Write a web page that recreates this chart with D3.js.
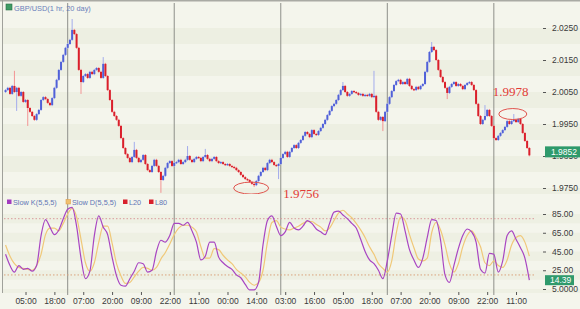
<!DOCTYPE html>
<html><head><meta charset="utf-8">
<script src="https://cdn.jsdelivr.net/npm/d3@7/dist/d3.min.js"></script>
<style>body{margin:0;background:#fff}svg{display:block;font-family:"Liberation Sans",Arial,sans-serif}</style>
</head><body><svg id="c" width="580" height="309"></svg>
<script>
// ---------- DATA ----------
const startHour = -9;          // hour index of first candle (0 = first labelled tick, 05:00)
const firstOpen = 2.0050;
const closes = [
2.0056,2.0063,2.0044,2.0069,2.0050,2.0063,2.0038,2.0050,2.0019,2.0025,
2.0000,1.9988,1.9975,1.9963,1.9981,1.9994,2.0025,2.0034,2.0028,2.0016,
2.0009,2.0031,2.0063,2.0088,2.0119,2.0144,2.0166,2.0188,2.0200,2.0213,
2.0244,2.0231,2.0188,2.0119,2.0081,2.0100,2.0106,2.0094,2.0113,2.0106,
2.0119,2.0125,2.0113,2.0094,2.0138,2.0100,2.0056,2.0025,1.9988,1.9975,
1.9963,1.9944,1.9906,1.9875,1.9856,1.9844,1.9831,1.9847,1.9869,1.9844,
1.9831,1.9838,1.9853,1.9825,1.9806,1.9800,1.9819,1.9838,1.9819,1.9800,
1.9775,1.9788,1.9813,1.9828,1.9834,1.9819,1.9828,1.9831,1.9838,1.9825,
1.9831,1.9838,1.9850,1.9838,1.9831,1.9841,1.9847,1.9844,1.9834,1.9847,
1.9853,1.9841,1.9834,1.9841,1.9847,1.9834,1.9828,1.9831,1.9825,1.9822,
1.9825,1.9819,1.9816,1.9813,1.9806,1.9800,1.9791,1.9784,1.9778,1.9775,
1.9769,1.9763,1.9759,1.9772,1.9788,1.9800,1.9813,1.9806,1.9828,1.9838,
1.9831,1.9822,1.9819,1.9825,1.9844,1.9856,1.9863,1.9847,1.9863,1.9875,
1.9884,1.9875,1.9891,1.9900,1.9913,1.9925,1.9919,1.9909,1.9931,1.9919,
1.9916,1.9928,1.9938,1.9950,1.9963,1.9978,1.9991,2.0006,2.0013,2.0025,
2.0041,2.0056,2.0069,2.0050,2.0038,2.0044,2.0053,2.0050,2.0047,2.0041,
2.0044,2.0038,2.0041,2.0038,2.0044,2.0034,2.0038,1.9988,1.9963,1.9972,
1.9959,1.9988,2.0013,2.0034,2.0053,2.0072,2.0084,2.0088,2.0075,2.0081,
2.0075,2.0091,2.0069,2.0059,2.0056,2.0066,2.0059,2.0069,2.0075,2.0113,
2.0144,2.0175,2.0191,2.0181,2.0150,2.0119,2.0097,2.0081,2.0063,2.0047,
2.0066,2.0075,2.0081,2.0069,2.0075,2.0069,2.0059,2.0072,2.0078,2.0081,
2.0072,2.0056,2.0013,1.9975,1.9950,1.9963,1.9975,1.9994,1.9975,1.9944,
1.9906,1.9900,1.9913,1.9922,1.9931,1.9941,1.9959,1.9950,1.9959,1.9963,
1.9956,1.9966,1.9950,1.9922,1.9897,1.9875,1.9852
];
// notable wicks
const highWickHours  = [-5, 21, 35, 49, 73, 81, 143, 157, 183, 207, 220];
const highWickValues = [2.0113, 2.0275, 2.0156, 1.9891, 1.9878, 1.9869, 2.0078, 2.0113, 2.0203, 2.0006, 1.9978];
const lowWickHours   = [-4, 1, 25, 61, 103, 114, 161, 190];
const lowWickValues  = [1.9994, 1.9947, 2.0047, 1.9738, 1.9756, 1.9781, 1.9931, 2.0031];

// stochastic, sampled every 2 hours from startHour
const stochStep = 2;
const slowK = [
42,30,23,30,26,27,24,30,62,79, 71,63,68,80,90,92,72,38,16,24,
62,83,71,63,39,19,9,8,16,24, 33,32,23,25,45,57,55,62,75,75,
73,76,67,55,36,40,55,55,39,33, 29,26,20,17,10,4,4,12,52,78,
83,72,62,66,76,70,68,72,78,75, 69,66,63,75,87,88,84,80,75,70,
58,45,36,32,25,16,35,62,86,85, 67,47,36,28,38,60,79,78,57,20,
12,30,48,62,69,66,55,26,22,43, 42,23,35,62,67,58,49,38,14.39
];
const slowD = [
52,40,32,28,27,26,25,30,42,63, 70,70,67,75,85,91,82,58,33,24,
33,55,72,72,54,32,19,11,12,18, 24,28,27,25,28,37,44,53,63,70,
73,73,71,66,50,38,38,48,47,41, 36,32,26,22,18,12,9,12,25,55,
76,78,71,69,68,70,72,75,77,77, 74,71,67,70,78,86,89,85,81,75,
68,60,50,42,32,27,23,35,64,82, 78,63,49,37,35,38,65,76,68,52,
32,23,32,50,62,67,60,50,33,30, 35,30,28,36,52,60,62,55,40
];
const levelLines = [80, 20];

const timeLabels = ["05:00","18:00","07:00","20:00","09:00","22:00","11:00","00:00","14:00",
                    "03:00","16:00","05:00","18:00","07:00","20:00","09:00","22:00","11:00"];
const labelStepHours = 13;
const dayLineHours = [19, 67, 115, 163, 211];
const priceTicks = [2.0250, 2.0150, 2.0050, 1.9950, 1.9850, 1.9750];
const stochTicks = [85, 65, 45, 25, 5];
const stochTickLabels = ["85.00","65.00","45.00","25.00","5.0000"];
const annotations = [{h:103, v:1.9756, text:"1.9756"}, {h:220, v:1.9978, text:"1.9978"}];
const title = "GBP/USD(1 hr, 20 day)";
const legend = [{name:"Slow K(5,5,5)", color:"#a23cbf"},{name:"Slow D(5,5,5)", color:"#f0c070"},
                {name:"L20", color:"#d8202c"},{name:"L80", color:"#d8202c"}];

// ---------- CHART ----------
const svg = d3.select("#c");
const x = d3.scaleLinear().domain([-9.7, 231.8]).range([4, 540]);
const yP = d3.scaleLinear().domain([1.975, 2.025]).range([188, 28]);
const yS = d3.scaleLinear().domain([5, 85]).range([289, 214]);
const priceTop = 3, priceBot = 194, stTop = 195, stBot = 293;

svg.append("rect").attr("width",580).attr("height",309).attr("fill","#f4f5ec");
const defs = svg.append("defs");
defs.append("clipPath").attr("id","cp").append("rect").attr("x",3).attr("y",priceTop).attr("width",577).attr("height",priceBot-priceTop);
defs.append("clipPath").attr("id","cs").append("rect").attr("x",3).attr("y",stTop).attr("width",577).attr("height",stBot-stTop);

// stripes
const gp = svg.append("g").attr("clip-path","url(#cp)");
gp.selectAll("rect").data(priceTicks).join("rect")
  .attr("x",3).attr("width",577)
  .attr("y",d=>yP(d)).attr("height",d=>yP(d-0.005)-yP(d)).attr("fill","#edefe2");
const gs = svg.append("g").attr("clip-path","url(#cs)");
gs.selectAll("rect").data(stochTicks).join("rect")
  .attr("x",3).attr("width",577)
  .attr("y",d=>yS(d)).attr("height",d=>yS(d-10)-yS(d)).attr("fill","#eef0e3");

// borders
svg.append("rect").attr("x",0).attr("y",0).attr("width",580).attr("height",1.5).attr("fill","#a9aaa4");
svg.append("line").attr("x1",2.5).attr("x2",2.5).attr("y1",0).attr("y2",stBot).attr("stroke","#a0a19b");

// day separators
svg.append("g").selectAll("line").data(dayLineHours).join("line")
  .attr("x1",d=>x(d)).attr("x2",d=>x(d)).attr("y1",priceTop).attr("y2",stBot+2)
  .attr("stroke","#8e8f8a").attr("stroke-width",1);

// candles
const hiMap = new Map(highWickHours.map((h,i)=>[h,highWickValues[i]]));
const loMap = new Map(lowWickHours.map((h,i)=>[h,lowWickValues[i]]));
const candles = closes.map((c,i)=>{
  const o = i ? closes[i-1] : firstOpen, h = startHour + i;
  return {h, o, c, hi: hiMap.has(h)? hiMap.get(h) : Math.max(o,c), lo: loMap.has(h)? loMap.get(h) : Math.min(o,c)};
});
const gc = svg.append("g").attr("clip-path","url(#cp)");
gc.selectAll("line").data(candles).join("line")
  .attr("x1",d=>x(d.h)).attr("x2",d=>x(d.h))
  .attr("y1",d=>yP(d.hi)-1).attr("y2",d=>yP(d.lo)+1)
  .attr("stroke",d=>d.c>=d.o?"#a3acec":"#f29494").attr("stroke-width",1);
gc.selectAll("rect").data(candles).join("rect")
  .attr("x",d=>x(d.h)-1).attr("width",2)
  .attr("y",d=>yP(Math.max(d.o,d.c)))
  .attr("height",d=>Math.max(1.2, Math.abs(yP(d.o)-yP(d.c))))
  .attr("fill",d=>d.c>=d.o?"#5060d8":"#da1f2b");

// annotations
annotations.forEach((a,i)=>{
  const cx = x(a.h), cy = yP(a.v);
  gc.append("ellipse").attr("cx", i===0? cx-3 : cx-1).attr("cy", i===0? cy+2 : cy-1)
    .attr("rx", i===0?17.5:14).attr("ry", i===0?6:5.5)
    .attr("fill","none").attr("stroke","#e0544e").attr("stroke-width",1);
  svg.append("text").attr("x", i===0? cx+29 : cx-21).attr("y", i===0? cy+12 : cy-19)
    .attr("font-family","'Liberation Serif','DejaVu Serif',serif").attr("font-size",13)
    .attr("fill","#e23a36").text(a.text);
});

// stochastic
const gl = svg.append("g").attr("clip-path","url(#cs)");
gl.selectAll("line").data(levelLines).join("line")
  .attr("x1",4).attr("x2",535).attr("y1",d=>yS(d)).attr("y2",d=>yS(d))
  .attr("stroke",(d,i)=>i?"#dba27c":"#d99a9c").attr("stroke-dasharray","1.5,2");
const line = d3.line().x((d,i)=>x(startHour+i*stochStep)).y(d=>yS(d)).curve(d3.curveMonotoneX);
gl.append("path").attr("d",line(slowD)).attr("fill","none").attr("stroke","#f0c878").attr("stroke-width",1.2);
gl.append("path").attr("d",line(slowK)).attr("fill","none").attr("stroke","#a845c2").attr("stroke-width",1.2);

// title legend
svg.append("rect").attr("x",6).attr("y",4).attr("width",6).attr("height",6).attr("fill","#3e9b63").attr("stroke","#2b6f47").attr("stroke-width",0.6);
svg.append("text").attr("x",14).attr("y",10.5).attr("font-size",7.4).attr("fill","#6a80bb").text(title);

// stochastic legend
const lgX = [7, 66, 123, 149];
legend.forEach((l,i)=>{
  svg.append("rect").attr("x",lgX[i]).attr("y",199.5).attr("width",4.5).attr("height",4.5)
    .attr("fill",l.color).attr("stroke", i===1?"#e0a050":"none").attr("stroke-width",0.6);
  svg.append("text").attr("x",lgX[i]+6).attr("y",204.5).attr("font-size",7.3).attr("fill","#6276b6").text(l.name);
});

// bottom axis
const xAxis = d3.axisBottom(x).tickValues(timeLabels.map((t,i)=>i*labelStepHours))
  .tickFormat((d,i)=>timeLabels[i]).tickSize(3).tickPadding(3);
const ax = svg.append("g").attr("transform",`translate(0,${stBot-1})`).call(xAxis);
ax.select(".domain").remove();
ax.selectAll("line").attr("stroke","#555");
ax.selectAll("text").attr("font-size",8.5).attr("fill","#3a3a3a").attr("font-family","'Liberation Sans',Arial,sans-serif");

// right axes
const pAxis = d3.axisRight(yP).tickValues(priceTicks).tickFormat(d3.format(".4f")).tickSize(3).tickPadding(6);
const ap = svg.append("g").attr("transform","translate(543,0)").call(pAxis);
const sAxis = d3.axisRight(yS).tickValues(stochTicks).tickFormat((d,i)=>stochTickLabels[i]).tickSize(3).tickPadding(6);
const as = svg.append("g").attr("transform","translate(543,0)").call(sAxis);
[ap,as].forEach(a=>{
  a.select(".domain").remove();
  a.selectAll("line").attr("stroke","#555");
  a.selectAll("text").attr("font-size",8.5).attr("fill","#3a3a3a").attr("font-family","'Liberation Sans',Arial,sans-serif");
});

// last-value boxes
const lastP = closes[closes.length-1], lastK = slowK[slowK.length-1];
const bp = yP(lastP)-3.5;
svg.append("rect").attr("x",545).attr("y",bp-5.5).attr("width",35).attr("height",11).attr("fill","#2f9a6c");
svg.append("text").attr("x",551).attr("y",bp+3).attr("font-size",8.5).attr("fill","#fff").text(d3.format(".4f")(lastP));
const bk = yS(lastK);
svg.append("rect").attr("x",545).attr("y",bk-5).attr("width",29).attr("height",10).attr("fill","#2f9a6c");
svg.append("text").attr("x",550).attr("y",bk+3).attr("font-size",8.5).attr("fill","#fff").text(d3.format(".2f")(lastK));
</script></body></html>
